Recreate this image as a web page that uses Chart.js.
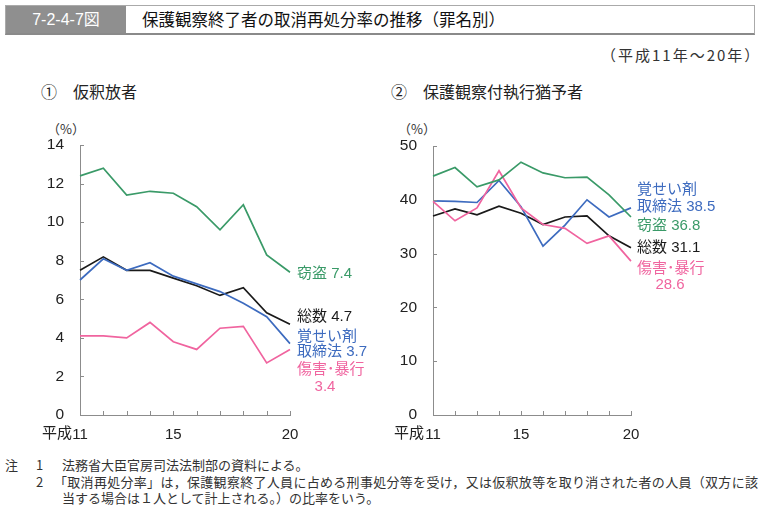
<!DOCTYPE html>
<html lang="ja">
<head>
<meta charset="utf-8">
<script src="https://cdn.jsdelivr.net/npm/chart.js@4"></script>
<style>
  body { margin: 0; width: 759px; height: 510px; background: #fff; position: relative; overflow: hidden;
         font-family: 'Noto Sans CJK JP', sans-serif; color: #222; }
  .abs { position: absolute; white-space: nowrap; }
  #titlebar { left: 5px; top: 5px; width: 748px; height: 27px; border: 1px solid #aaa; border-bottom: 2px solid #8a8a8a; }
  #fignum { left: 0; top: 0; width: 120px; height: 27px; background: #8f8f8f; color: #fff; font-size: 16px;
            line-height: 27px; text-align: center; font-family: 'Liberation Sans Narrow', 'Liberation Sans', 'Noto Sans CJK JP', sans-serif; }
  #title { left: 136px; top: 0; font-size: 16.5px; line-height: 27px; color: #111; }
  .sub { font-size: 16px; color: #222; }
  .pct { font-size: 13px; color: #333; }
  .note { font-size: 13px; color: #333; line-height: 16px; }
  .yr { font-size: 15px; color: #222; }
  .box { position: absolute; }
</style>
</head>
<body>
<div id="titlebar" class="abs">
  <div id="fignum" class="abs">7-2-4-7図</div>
  <div id="title" class="abs">保護観察終了者の取消再処分率の推移（罪名別）</div>
</div>
<div class="abs note" style="left:601px; top:47px; font-size:15px; letter-spacing:2px;">（平成11年～20年）</div>

<div class="abs sub" style="left:41px; top:79px;">①　仮釈放者</div>
<div class="abs sub" style="left:391px; top:79px;">②　保護観察付執行猶予者</div>
<div class="abs pct" style="left:47px; top:119px;">（%）</div>
<div class="abs pct" style="left:398px; top:119px;">（%）</div>

<div class="box" style="left:0; top:110px; width:380px; height:330px;"><canvas id="leftChart"></canvas></div>
<div class="box" style="left:380px; top:110px; width:379px; height:330px;"><canvas id="rightChart"></canvas></div>

<div class="abs yr" style="left:42px; top:421px;">平成</div>
<div class="abs yr" style="left:394px; top:421px;">平成</div>

<div class="abs note" style="left:5px; top:457px;">注</div>
<div class="abs note" style="left:36px; top:457px;">1</div>
<div class="abs note" style="left:62px; top:457px;">法務省大臣官房司法法制部の資料による。</div>
<div class="abs note" style="left:36px; top:474px;">2</div>
<div class="abs note" style="left:54px; top:474px; letter-spacing:0.3px;">「取消再処分率」は，保護観察終了人員に占める刑事処分等を受け，又は仮釈放等を取り消された者の人員（双方に該</div>
<div class="abs note" style="left:62px; top:490px;">当する場合は１人として計上される。）の比率をいう。</div>

<script>
// 年（平成）
const years = ['11', '12', '13', '14', '15', '16', '17', '18', '19', '20'];

// ① 仮釈放者
const kariSosu = [7.5, 8.2, 7.5, 7.5, 7.1, 6.7, 6.2, 6.6, 5.3, 4.7];
const kariSetto = [12.4, 12.8, 11.4, 11.6, 11.5, 10.8, 9.6, 10.9, 8.3, 7.4];
const kariKakusei = [7.0, 8.1, 7.5, 7.9, 7.2, 6.8, 6.4, 5.8, 5.1, 3.7];
const kariShogai = [4.1, 4.1, 4.0, 4.8, 3.8, 3.4, 4.5, 4.6, 2.7, 3.4];

// ② 保護観察付執行猶予者
const hogoSosu = [37.0, 38.3, 37.2, 38.8, 37.5, 35.4, 36.8, 37.0, 33.3, 31.1];
const hogoSetto = [44.4, 46.0, 42.4, 43.7, 47.0, 45.0, 44.1, 44.2, 40.9, 36.8];
const hogoKakusei = [39.8, 39.7, 39.5, 43.6, 38.7, 31.4, 35.3, 40.0, 36.8, 38.5];
const hogoShogai = [39.7, 36.1, 38.5, 45.4, 38.5, 35.4, 34.7, 31.9, 33.3, 28.6];

// 目盛りに表示する年
const shownYears = ['11', '15', '20'];

const colors = {
    sosu: '#1a1a1a',
    setto: '#3a9a68',
    kakusei: '#3d6bbf',
    shogai: '#f0649f'
};
const axisColor = '#8c8c8c';
const numFont = "'Liberation Sans', 'Noto Sans CJK JP', sans-serif";

// 内向きの目盛り線
const innerTicks = {
    id: 'innerTicks',
    afterDraw(chart) {
        const ctx = chart.ctx;
        const area = chart.chartArea;
        const xs = chart.scales.x;
        const ys = chart.scales.y;
        ctx.save();
        ctx.strokeStyle = axisColor;
        ctx.lineWidth = 1;
        ctx.beginPath();
        ys.ticks.forEach(t => {
            const y = Math.round(ys.getPixelForValue(t.value)) + 0.5;
            ctx.moveTo(area.left, y);
            ctx.lineTo(area.left + 4, y);
        });
        xs.ticks.forEach((t, i) => {
            const x = Math.round(xs.getPixelForTick(i)) + 0.5;
            ctx.moveTo(x, area.bottom);
            ctx.lineTo(x, area.bottom - 4);
        });
        ctx.stroke();
        ctx.restore();
    }
};

// 線の末端のラベル
const endLabels = {
    id: 'endLabels',
    afterDatasetsDraw(chart, args, opts) {
        const ctx = chart.ctx;
        ctx.save();
        ctx.font = '15px ' + numFont;
        ctx.textBaseline = 'middle';
        (opts.items || []).forEach(item => {
            const meta = chart.getDatasetMeta(item.dataset);
            const last = meta.data[meta.data.length - 1];
            ctx.fillStyle = chart.data.datasets[item.dataset].borderColor;
            item.lines.forEach(line => {
                ctx.textAlign = line.center ? 'center' : 'left';
                ctx.fillText(line.text, last.x + item.dx + (line.indent || 0), last.y + line.dy);
            });
        });
        ctx.restore();
    }
};

function makeDatasets(sosu, setto, kakusei, shogai) {
    const base = { borderWidth: 1.7, pointRadius: 0, tension: 0, fill: false };
    return [
        Object.assign({ label: '窃盗', data: setto, borderColor: colors.setto }, base),
        Object.assign({ label: '傷害・暴行', data: shogai, borderColor: colors.shogai }, base),
        Object.assign({ label: '覚せい剤取締法', data: kakusei, borderColor: colors.kakusei }, base),
        Object.assign({ label: '総数', data: sosu, borderColor: colors.sosu }, base)
    ];
}

function makeChart(canvasId, datasets, yMax, yStep, yWidth, padding, labelItems) {
    return new Chart(document.getElementById(canvasId), {
        type: 'line',
        data: { labels: years, datasets: datasets },
        plugins: [innerTicks, endLabels],
        options: {
            responsive: true,
            maintainAspectRatio: false,
            animation: false,
            layout: { padding: padding },
            plugins: {
                legend: { display: false },
                tooltip: { enabled: false },
                endLabels: { items: labelItems }
            },
            scales: {
                x: {
                    offset: false,
                    grid: { display: false },
                    border: { display: true, color: axisColor, width: 1 },
                    ticks: {
                        autoSkip: false,
                        maxRotation: 0,
                        padding: 3,
                        color: '#222',
                        font: { size: 15, family: numFont },
                        callback: function(value, index) {
                            const y = years[index];
                            return shownYears.includes(y) ? y : '';
                        }
                    },
                    afterFit: scale => { scale.height = 25; }
                },
                y: {
                    min: 0,
                    max: yMax,
                    grid: { display: false },
                    border: { display: true, color: axisColor, width: 1 },
                    ticks: {
                        stepSize: yStep,
                        padding: 8,
                        color: '#222',
                        font: { size: 15.5, family: numFont }
                    },
                    afterFit: scale => { scale.width = yWidth; }
                }
            }
        }
    });
}

// ① 仮釈放者
makeChart('leftChart',
    makeDatasets(kariSosu, kariSetto, kariKakusei, kariShogai),
    14, 2, 80, { top: 35, right: 90, left: 0, bottom: 0 },
    [
        { dataset: 0, dx: 7, lines: [{ text: '窃盗 7.4', dy: 2 }] },
        { dataset: 3, dx: 7, lines: [{ text: '総数 4.7', dy: -7 }] },
        { dataset: 2, dx: 7, lines: [{ text: '覚せい剤', dy: -7 }, { text: '取締法 3.7', dy: 8 }] },
        { dataset: 1, dx: 7, lines: [{ text: '傷害･暴行', dy: 20 }, { text: '3.4', dy: 37, center: true, indent: 28 }] }
    ]);

// ② 保護観察付執行猶予者
makeChart('rightChart',
    makeDatasets(hogoSosu, hogoSetto, hogoKakusei, hogoShogai),
    50, 10, 53, { top: 36, right: 128, left: 0, bottom: 0 },
    [
        { dataset: 2, dx: 6, lines: [{ text: '覚せい剤', dy: -18 }, { text: '取締法 38.5', dy: -1 }] },
        { dataset: 0, dx: 6, lines: [{ text: '窃盗 36.8', dy: 9 }] },
        { dataset: 3, dx: 6, lines: [{ text: '総数 31.1', dy: 0 }] },
        { dataset: 1, dx: 6, lines: [{ text: '傷害･暴行', dy: 8 }, { text: '28.6', dy: 24, center: true, indent: 33 }] }
    ]);
</script>
</body>
</html>
